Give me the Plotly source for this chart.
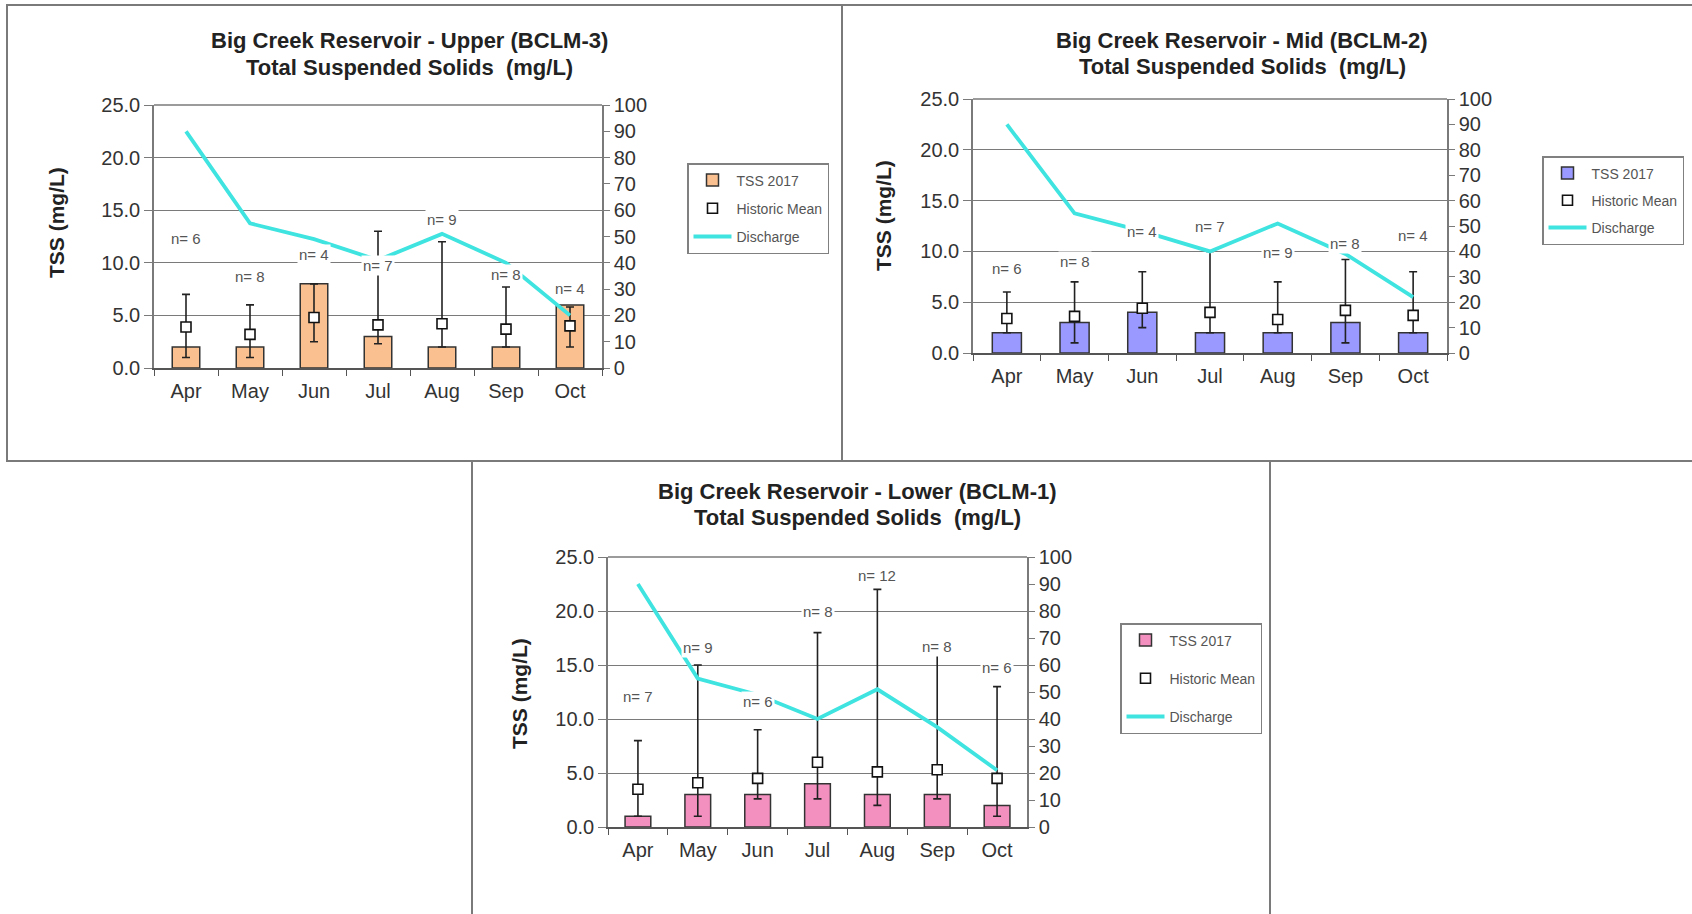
import plotly.graph_objects as go

W, H = 1692, 914
FONT = "Liberation Sans, Arial, sans-serif"

months = ["Apr", "May", "Jun", "Jul", "Aug", "Sep", "Oct"]

# ---- Upper (BCLM-3)
tss_upper = [2, 2, 8, 3, 2, 2, 6]
mean_upper = [3.9, 3.2, 4.8, 4.1, 4.2, 3.7, 4.0]
max_upper = [7.0, 6.0, 8.0, 13.0, 12.0, 7.7, 5.8]
min_upper = [1.0, 1.0, 2.5, 2.3, 2.0, 2.0, 2.0]
q_upper = [90, 55, 49, 41, 51, 40, 20]
n_upper = [6, 8, 4, 7, 9, 8, 4]
npos_upper = [12.3, 8.7, 10.8, 9.7, 14.1, 8.9, 7.6]

# ---- Mid (BCLM-2)
tss_mid = [2, 3, 4, 2, 2, 3, 2]
mean_mid = [3.4, 3.6, 4.4, 4.0, 3.3, 4.2, 3.7]
max_mid = [6.0, 7.0, 8.0, 10.0, 7.0, 9.2, 8.0]
min_mid = [2.0, 1.0, 2.5, 2.0, 2.0, 1.0, 2.0]
q_mid = [90, 55, 48, 40, 51, 39, 22]
n_mid = [6, 8, 4, 7, 9, 8, 4]
npos_mid = [8.3, 9.0, 12.0, 12.5, 9.9, 10.8, 11.6]

# ---- Lower (BCLM-1)
tss_lower = [1, 3, 3, 4, 3, 3, 2]
mean_lower = [3.5, 4.1, 4.5, 6.0, 5.1, 5.3, 4.5]
max_lower = [8.0, 15.0, 9.0, 18.0, 22.0, 16.0, 13.0]
min_lower = [1.0, 1.0, 2.6, 2.6, 2.0, 2.6, 1.0]
q_lower = [90, 55, 49, 40, 51, 37, 21]
n_lower = [7, 9, 6, 8, 12, 8, 6]
npos_lower = [12.1, 16.6, 11.6, 20.0, 23.3, 16.7, 14.8]

titles = [
    ("Big Creek Reservoir - Upper (BCLM-3)", "Total Suspended Solids  (mg/L)"),
    ("Big Creek Reservoir - Mid (BCLM-2)", "Total Suspended Solids  (mg/L)"),
    ("Big Creek Reservoir - Lower (BCLM-1)", "Total Suspended Solids  (mg/L)"),
]
bar_colors = ["#FAC08F", "#9999FF", "#F490C0"]
legend_labels = ["TSS 2017", "Historic Mean", "Discharge"]
left_ticks = [0, 5, 10, 15, 20, 25]
right_ticks = list(range(0, 101, 10))


def px(x):
    return x / W


def py(y):
    return 1 - y / H


panels = [
    dict(tss=tss_upper, mean=mean_upper, mx=max_upper, mn=min_upper, q=q_upper, n=n_upper, npos=npos_upper,
         plot=(154, 105, 602, 368), border=(7, 5, 842, 461), title=(409, 41, 67), ytitle=(57, 223),
         legend=(687, 163), gap=7),
    dict(tss=tss_mid, mean=mean_mid, mx=max_mid, mn=min_mid, q=q_mid, n=n_mid, npos=npos_mid,
         plot=(973, 99, 1447, 353), border=(842, 5, 1710, 461), title=(1242, 40, 66), ytitle=(883, 215),
         legend=(1542, 156), gap=6),
    dict(tss=tss_lower, mean=mean_lower, mx=max_lower, mn=min_lower, q=q_lower, n=n_lower, npos=npos_lower,
         plot=(608, 557, 1027, 827), border=(472, 461, 1270, 930), title=(857, 491, 517), ytitle=(519, 694),
         legend=(1120, 623), gap=17),
]

fig = go.Figure()
layout = dict(
    width=W, height=H, margin=dict(l=0, r=0, t=0, b=0, autoexpand=False),
    paper_bgcolor="white", plot_bgcolor="rgba(0,0,0,0)",
    bargap=0.57, font=dict(family=FONT, color="#333"), showlegend=True,
)
annotations = []
shapes = []

for i, p in enumerate(panels):
    k = i + 1
    xa = "x" if k == 1 else f"x{k}"
    yl_idx = 2 * i + 1
    yr_idx = 2 * i + 2
    yl = "y" if yl_idx == 1 else f"y{yl_idx}"
    yr = f"y{yr_idx}"
    leg = "legend" if k == 1 else f"legend{k}"
    x0, y0, x1, y1 = p["plot"]

    err_plus = [a - b for a, b in zip(p["mx"], p["mean"])]
    err_minus = [b - a for a, b in zip(p["mn"], p["mean"])]

    fig.add_trace(go.Bar(
        x=months, y=p["tss"], name=legend_labels[0], xaxis=xa, yaxis=yl,
        marker=dict(color=bar_colors[i], line=dict(color="#333333", width=1.5)),
        legend=leg, legendgroup=f"g{k}a",
    ))
    fig.add_trace(go.Scatter(
        x=months, y=p["mean"], name=legend_labels[1], xaxis=xa, yaxis=yl, mode="markers",
        marker=dict(symbol="square", size=10, color="white", line=dict(color="#111", width=1.6)),
        error_y=dict(type="data", symmetric=False, array=err_plus, arrayminus=err_minus,
                     color="#222", thickness=1.6, width=4),
        legend=leg, legendgroup=f"g{k}b",
    ))
    fig.add_trace(go.Scatter(
        x=months, y=p["q"], name=legend_labels[2], xaxis=xa, yaxis=yr, mode="lines",
        line=dict(color="#3FE3E0", width=3.8),
        legend=leg, legendgroup=f"g{k}c",
    ))

    xkey = "xaxis" if k == 1 else f"xaxis{k}"
    ylkey = "yaxis" if yl_idx == 1 else f"yaxis{yl_idx}"
    yrkey = f"yaxis{yr_idx}"
    layout[xkey] = dict(
        domain=[px(x0), px(x1)], anchor=yl, showline=True, linecolor="#555", linewidth=2,
        ticks="outside", tickson="boundaries", ticklen=6, tickcolor="#555",
        tickfont=dict(size=20, color="#333"), ticklabelstandoff=4, showgrid=False,
        fixedrange=True, automargin=False,
    )
    layout[ylkey] = dict(
        domain=[py(y1), py(y0)], anchor=xa, range=[0, 25], tickvals=left_ticks, tickformat=".1f",
        showgrid=True, gridcolor="#7a7a7a", gridwidth=1.2, showline=True, linecolor="#7a7a7a",
        linewidth=1.5, ticks="outside", ticklen=8, tickcolor="#7a7a7a", zeroline=False,
        tickfont=dict(size=20, color="#333"), fixedrange=True, automargin=False,
    )
    layout[yrkey] = dict(
        domain=[py(y1), py(y0)], anchor=xa, overlaying=yl, side="right", range=[0, 100],
        tickvals=right_ticks, showgrid=False, showline=True, linecolor="#7a7a7a", linewidth=1.5,
        ticks="outside", ticklen=6, tickcolor="#7a7a7a", zeroline=False,
        tickfont=dict(size=20, color="#333"), fixedrange=True, automargin=False,
    )
    lx, ly = p["legend"]
    layout[leg] = dict(
        x=px(lx), y=py(ly), xanchor="left", yanchor="top", bgcolor="white",
        bordercolor="#808080", borderwidth=1.5, font=dict(size=14, color="#555", family=FONT),
        tracegroupgap=p["gap"], itemwidth=38, traceorder="grouped",
    )

    # top border of plot area
    shapes.append(dict(type="line", xref=f"{xa} domain", yref=f"{yl} domain", x0=0, x1=1, y0=1, y1=1,
                       line=dict(color="#7a7a7a", width=1.5)))
    # panel border
    bx0, by0, bx1, by1 = p["border"]
    shapes.append(dict(type="rect", xref="paper", yref="paper", x0=px(bx0), x1=px(bx1),
                       y0=py(by1), y1=py(by0), line=dict(color="#7a7a7a", width=2), layer="below"))

    tx, t1y, t2y = p["title"]
    for txt, ty in zip(titles[i], (t1y, t2y)):
        annotations.append(dict(text=f"<b>{txt}</b>", x=px(tx), y=py(ty), xref="paper", yref="paper",
                                showarrow=False, xanchor="center", yanchor="middle",
                                font=dict(size=22, color="#222", family=FONT)))
    ax, ay = p["ytitle"]
    annotations.append(dict(text="<b>TSS (mg/L)</b>", x=px(ax), y=py(ay), xref="paper", yref="paper",
                            showarrow=False, textangle=-90, xanchor="center", yanchor="middle",
                            font=dict(size=21, color="#222", family=FONT)))
    for m, nv, yv in zip(months, p["n"], p["npos"]):
        annotations.append(dict(text=f"n= {nv}", x=m, y=yv, xref=xa, yref=yl, showarrow=False,
                                bgcolor="white", borderpad=1,
                                font=dict(size=15, color="#555", family=FONT)))

layout["annotations"] = annotations
layout["shapes"] = shapes
fig.update_layout(**layout)
fig.write_html("out.html")
